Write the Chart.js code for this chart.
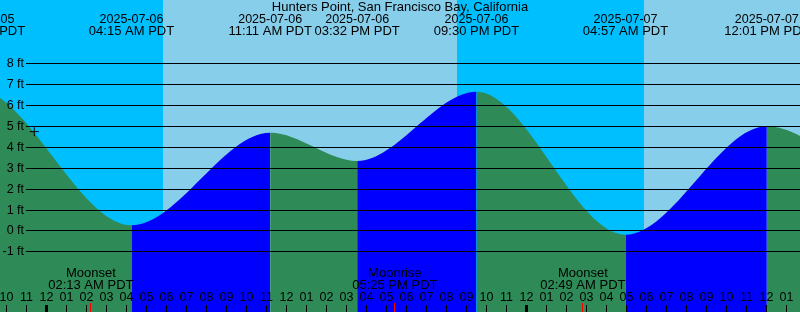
<!DOCTYPE html>
<html>
<head>
<meta charset="utf-8">
<script src="https://cdn.jsdelivr.net/npm/chart.js@4.4.1/dist/chart.umd.min.js"></script>
<style>
  body { margin: 0; background: #fff; }
  canvas { display: block; }
</style>
</head>
<body>
<canvas id="tideChart" width="800" height="312"></canvas>
<script>
// hours since midnight 2025-07-06 (PDT); highs and lows
// (first and last entries are estimates just outside the visible window)
const tideHours = [-10, -3.6, 4.25, 11.183, 15.533, 21.5, 28.95, 36.017, 42.5, 48.5];
const tideFeet = [3.0, 6.8, 0.25, 4.68, 3.33, 6.64, -0.2, 4.99, 2.14, 6.5];

const eventHours = [-3.2, 4.25, 11.183, 15.533, 21.5, 28.95, 36.017];
const eventDates = ['2025-07-05', '2025-07-06', '2025-07-06', '2025-07-06', '2025-07-06', '2025-07-07', '2025-07-07'];
const eventTimes = ['08:48 PM PDT', '04:15 AM PDT', '11:11 AM PDT', '03:32 PM PDT', '09:30 PM PDT', '04:57 AM PDT', '12:01 PM PDT'];

const sunrise = [5.825, 29.875];
const sunset = [20.525];

const moonHours = [2.217, 17.417, 26.817];
const moonNames = ['Moonset', 'Moonrise', 'Moonset'];
const moonTimes = ['02:13 AM PDT', '05:25 PM PDT', '02:49 AM PDT'];

const feetTicks = [-1, 0, 1, 2, 3, 4, 5, 6, 7, 8];
const markHour = [-0.61];
const markFeet = [4.73];

const X_MIN = -2.325, X_MAX = 37.675;
const Y_MIN = -3.90, Y_MAX = 11.03;

const NIGHT = '#00bfff', DAY = '#87ceeb', FALL = '#2e8b57', RISE = '#0000ff';
const FONT_S = '12.5px "Liberation Sans", Arial, sans-serif';
const FONT_L = '13px "Liberation Sans", Arial, sans-serif';

const tidePoints = tideHours.map((h, i) => ({ x: h, y: tideFeet[i] }));

const skyPlugin = {
  id: 'sky',
  beforeDatasetsDraw(chart) {
    const { ctx, chartArea: a, scales: { x } } = chart;
    ctx.save();
    ctx.fillStyle = NIGHT;
    ctx.fillRect(a.left, a.top, a.width, a.height);
    // daytime bands
    const ends = sunset.concat([X_MAX]);
    ctx.fillStyle = DAY;
    for (let i = 0; i < sunrise.length; i++) {
      const x0 = Math.round(x.getPixelForValue(sunrise[i]));
      const x1 = Math.round(x.getPixelForValue(Math.min(ends[i], X_MAX)));
      ctx.fillRect(x0, a.top, x1 - x0, a.height);
    }
    ctx.restore();
  }
};

const labelPlugin = {
  id: 'labels',
  afterDatasetsDraw(chart) {
    const { ctx, chartArea: a, scales: { x, y } } = chart;
    ctx.save();
    ctx.font = FONT_S;
    ctx.fillStyle = '#000';
    ctx.strokeStyle = '#000';
    ctx.lineWidth = 1;

    // feet gridlines
    feetTicks.forEach(f => {
      const py = Math.round(y.getPixelForValue(f)) + 0.5;
      ctx.beginPath();
      ctx.moveTo(26, py);
      ctx.lineTo(a.right, py);
      ctx.stroke();
      ctx.textAlign = 'right';
      ctx.textBaseline = 'middle';
      ctx.fillText(f + ' ft', 24, py);
    });

    // title
    ctx.textAlign = 'center';
    ctx.textBaseline = 'middle';
    ctx.font = FONT_L;
    ctx.fillText('Hunters Point, San Francisco Bay, California', 400, 7.5);

    // high / low labels
    eventHours.forEach((h, i) => {
      const px = x.getPixelForValue(h);
      ctx.font = FONT_S;
      ctx.fillText(eventDates[i], px, 19.5);
      ctx.font = FONT_L;
      ctx.fillText(eventTimes[i], px, 31.5);
    });

    // moon labels
    ctx.font = FONT_L;
    moonHours.forEach((h, i) => {
      const px = x.getPixelForValue(h);
      ctx.fillText(moonNames[i], px, 273);
      ctx.fillText(moonTimes[i], px, 285.5);
    });

    // hour labels and ticks
    ctx.font = FONT_S;
    for (let h = Math.ceil(X_MIN); h <= Math.floor(X_MAX); h++) {
      const px = Math.floor(x.getPixelForValue(h)) + 0.5;
      let hh = ((h % 12) + 12) % 12;
      if (hh === 0) hh = 12;
      ctx.fillText(String(hh).padStart(2, '0'), px, 297.5);
      const midnight = ((h % 24) + 24) % 24 === 0;
      ctx.lineWidth = midnight ? 3 : 1;
      ctx.beginPath();
      ctx.moveTo(px, 305);
      ctx.lineTo(px, a.bottom);
      ctx.stroke();
    }
    ctx.lineWidth = 1;
    ctx.strokeStyle = '#ff0000';
    moonHours.forEach(h => {
      const px = Math.floor(x.getPixelForValue(h)) + 0.5;
      ctx.beginPath();
      ctx.moveTo(px, 303);
      ctx.lineTo(px, a.bottom);
      ctx.stroke();
    });
    ctx.restore();
  }
};

new Chart(document.getElementById('tideChart'), {
  data: {
    datasets: [
      {
        type: 'line',
        order: 1,
        data: tidePoints,
        pointRadius: 0,
        borderWidth: 0,
        borderColor: 'rgba(0,0,0,0)',
        fill: 'start',
        backgroundColor: FALL,
        cubicInterpolationMode: 'monotone',
        segment: {
          backgroundColor: c => c.p1.parsed.y > c.p0.parsed.y ? RISE : FALL
        }
      },
      {
        type: 'scatter',
        order: 0,
        data: markHour.map((h, i) => ({ x: h, y: markFeet[i] })),
        pointStyle: 'cross',
        pointRadius: 4.5,
        borderColor: '#000',
        borderWidth: 1,
        backgroundColor: '#000'
      }
    ]
  },
  options: {
    responsive: false,
    animation: false,
    devicePixelRatio: 1,
    layout: { padding: 0, autoPadding: false },
    plugins: { legend: { display: false }, tooltip: { enabled: false } },
    scales: {
      x: { type: 'linear', min: X_MIN, max: X_MAX, display: false },
      y: { type: 'linear', min: Y_MIN, max: Y_MAX, display: false }
    }
  },
  plugins: [skyPlugin, labelPlugin]
});
</script>
</body>
</html>
